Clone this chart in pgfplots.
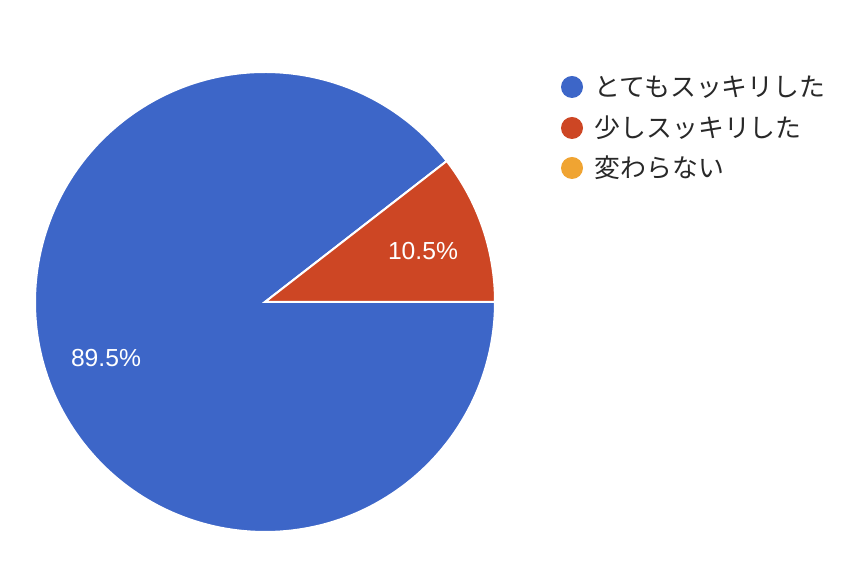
\documentclass[border=0pt]{standalone}
\usepackage{fontspec}
\setmainfont{Liberation Sans}
\newfontfamily\jp{Noto Sans CJK JP}
\usepackage{pgfplots}
\pgfplotsset{compat=1.18}
\definecolor{pieblue}{RGB}{61,102,200}
\definecolor{piered}{RGB}{205,70,36}
\definecolor{pieorange}{RGB}{240,164,50}
\definecolor{legtext}{RGB}{40,40,40}
% shares in percent
\def\shareA{89.5}
\def\shareB{10.5}
\def\shareC{0}
\begin{document}
\begin{tikzpicture}
\begin{axis}[
  scale only axis,
  width=637.5pt, height=417pt,
  xmin=0, xmax=850, ymin=0, ymax=556,
  hide axis,
  clip=false,
]
\addplot[draw=none, forget plot] coordinates {(0,0) (850,556)};
% pie: centre (265,254), radius 230
\pgfmathsetmacro{\angB}{\shareB*3.6}
\fill[pieblue, draw=white, line width=1.5pt]
  (axis cs:265,254) -- (axis cs:{265+230*cos(\angB)},{254+230*sin(\angB)})
  arc[start angle=\angB, end angle=360, radius=230] -- cycle;
\fill[piered, draw=white, line width=1.5pt]
  (axis cs:265,254) -- (axis cs:495,254)
  arc[start angle=0, end angle=\angB, radius=230] -- cycle;
\node[white, font=\fontsize{18.5}{22}\selectfont] at (axis cs:423,305) {10.5\%};
\node[white, font=\fontsize{18.5}{22}\selectfont] at (axis cs:106,198) {89.5\%};
% legend
\fill[pieblue] (axis cs:572,469) circle[radius=11];
\fill[piered] (axis cs:572,428) circle[radius=11];
\fill[pieorange] (axis cs:572,388) circle[radius=11];
\node[anchor=west, legtext, font=\jp\fontsize{19.4}{23}\selectfont] at (axis cs:590,469) {とてもスッキリした};
\node[anchor=west, legtext, font=\jp\fontsize{19.4}{23}\selectfont] at (axis cs:590,428) {少しスッキリした};
\node[anchor=west, legtext, font=\jp\fontsize{19.4}{23}\selectfont] at (axis cs:590,388) {変わらない};
\end{axis}
\end{tikzpicture}
\end{document}
